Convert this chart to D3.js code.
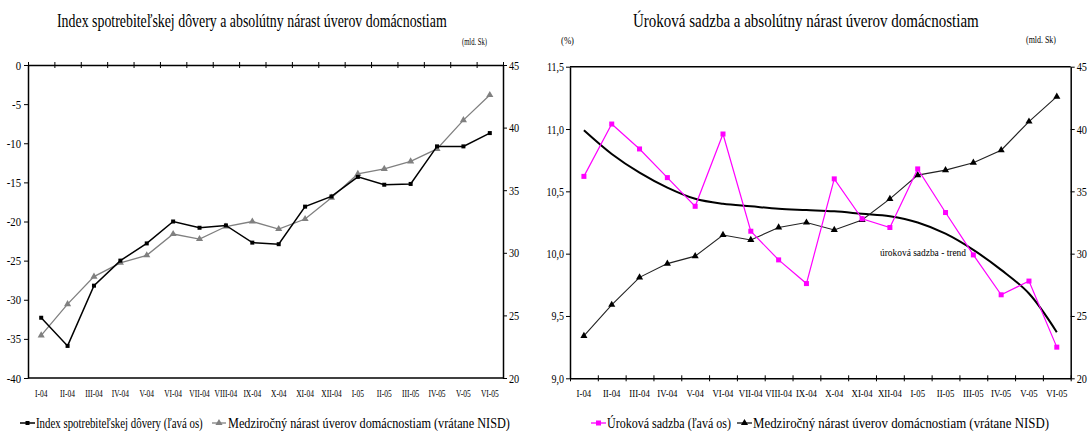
<!DOCTYPE html>
<html>
<head>
<meta charset="utf-8">
<script src="https://cdn.jsdelivr.net/npm/d3@7"></script>
<style>
  html, body { margin: 0; padding: 0; background: #fff; }
  svg { display: block; }
  svg text { font-family: "Liberation Serif", "Times New Roman", Times, "DejaVu Serif", serif !important; }
</style>
</head>
<body>
<svg id="chart" width="1092" height="431"></svg>
<script>
// Monthly categories, Jan 2004 – Jun 2005
const months = ["I-04","II-04","III-04","IV-04","V-04","VI-04","VII-04","VIII-04","IX-04",
                "X-04","XI-04","XII-04","I-05","II-05","III-05","IV-05","V-05","VI-05"];

// Consumer confidence index (left axis, left chart)
const confidence = [-32.3,-35.9,-28.2,-25.0,-22.8,-20.0,-20.8,-20.5,-22.7,
                    -22.9,-18.1,-16.8,-14.3,-15.3,-15.2,-10.4,-10.4,-8.7];

// Year-on-year increase of household loans incl. NISD, bn SKK (right axes)
const loanGrowth = [23.4,25.9,28.1,29.2,29.8,31.5,31.1,32.1,32.5,
                    31.9,32.7,34.4,36.3,36.7,37.3,38.3,40.6,42.6];

// Household lending rate, % (left axis, right chart)
const rate = [10.62,11.04,10.84,10.61,10.38,10.96,10.18,9.95,9.76,
              10.60,10.28,10.21,10.68,10.33,9.99,9.67,9.78,9.25];

// Lending rate trend line
const rateTrend = [10.99,10.80,10.65,10.53,10.44,10.40,10.38,10.36,10.35,
                   10.34,10.32,10.30,10.25,10.16,10.03,9.87,9.68,9.37];

// Tick values
const confTicks = [0,-5,-10,-15,-20,-25,-30,-35,-40];
const loanTicks = [20,25,30,35,40,45];
const rateTicks = [9.0,9.5,10.0,10.5,11.0,11.5];

const svg = d3.select("#chart");

// Squeeze text horizontally (condensed serif look) with a scale transform
function condense(sel, f) {
  sel.each(function () {
    const t = d3.select(this);
    const x = +t.attr("x") || 0;
    t.attr("x", x / f).attr("transform", `scale(${f},1)`);
  });
}
// Place a single line of text so that it spans exactly `width` pixels
function fitText(g, str, x, y, width, size) {
  const t = g.append("text").attr("x", 0).attr("y", 0).attr("font-size", size)
    .attr("fill", "#000").text(str);
  const w = t.node().getComputedTextLength();
  t.attr("transform", `translate(${x},${y}) scale(${width / w},1)`);
  return t;
}
function styleAxis(g, lw) {
  g.attr("font-family", null);
  g.selectAll("path.domain").attr("stroke", "#000").attr("stroke-width", lw || 1.5);
  g.selectAll(".tick line").attr("stroke", "#000").attr("stroke-width", 1);
  g.selectAll("text").attr("fill", "#000");
}
function squareMarks(g, data, x, y, size, color) {
  g.selectAll(null).data(data).join("rect")
    .attr("x", (d, i) => x(months[i]) + x.bandwidth() / 2 - size / 2)
    .attr("y", d => y(d) - size / 2)
    .attr("width", size).attr("height", size).attr("fill", color);
}
function triangleMarks(g, data, x, y, size, color) {
  const sym = d3.symbol().type(d3.symbolTriangle).size(size);
  g.selectAll(null).data(data).join("path")
    .attr("d", sym)
    .attr("transform", (d, i) => `translate(${x(months[i]) + x.bandwidth() / 2},${y(d)})`)
    .attr("fill", color);
}

/* ---------------- Left chart ---------------- */
{
  const L = 28, R = 503, T = 65, B = 378;
  const g = svg.append("g");
  const x = d3.scaleBand().domain(months).range([L, R]);
  const edges = d3.scaleLinear().domain([0, months.length]).range([L, R]);
  const yL = d3.scaleLinear().domain([-40, 0]).range([B, T]);
  const yR = d3.scaleLinear().domain([20, 45]).range([B, T]);

  fitText(g, "Index spotrebiteľskej dôvery a absolútny nárast úverov domácnostiam", 57, 27, 390, 19);
  fitText(g, "(mld. Sk)", 462, 45, 25, 9.5);

  // bottom frame line
  g.append("line").attr("x1", L).attr("x2", R).attr("y1", B).attr("y2", B)
    .attr("stroke", "#000").attr("stroke-width", 1.5);

  // category axis along the zero line (top)
  const top = g.append("g").attr("transform", `translate(0,${yL(0)})`)
    .call(d3.axisTop(edges).tickValues(d3.range(months.length + 1)).tickSize(3).tickFormat("").tickSizeOuter(0));
  top.selectAll(".tick line").attr("y2", -3).attr("y1", 3);
  styleAxis(top);

  // category labels below the plot
  const xl = g.append("g").attr("transform", `translate(0,${B})`)
    .call(d3.axisBottom(x).tickSize(0).tickPadding(11));
  xl.attr("font-family", null);
  xl.select("path.domain").remove();
  xl.selectAll("text").attr("font-size", 11).attr("fill", "#000");
  condense(xl.selectAll("text"), 0.68);

  const ax1 = g.append("g").attr("transform", `translate(${L},0)`)
    .call(d3.axisLeft(yL).tickValues(confTicks).tickFormat(d => String(d)).tickSize(4).tickPadding(3).tickSizeOuter(0));
  styleAxis(ax1);
  ax1.selectAll("text").attr("font-size", 12.5);
  condense(ax1.selectAll("text"), 0.86);

  const ax2 = g.append("g").attr("transform", `translate(${R},0)`)
    .call(d3.axisRight(yR).tickValues(loanTicks).tickFormat(d => String(d)).tickSize(4).tickPadding(2).tickSizeOuter(0));
  styleAxis(ax2);
  ax2.selectAll("text").attr("font-size", 12.5);
  condense(ax2.selectAll("text"), 0.82);

  const cx = (d, i) => x(months[i]) + x.bandwidth() / 2;
  // loan growth (grey, right axis)
  g.append("path").datum(loanGrowth)
    .attr("d", d3.line().x(cx).y(d => yR(d)))
    .attr("fill", "none").attr("stroke", "#808080").attr("stroke-width", 1.3);
  triangleMarks(g, loanGrowth, x, yR, 22, "#808080");
  // confidence index (black, left axis)
  g.append("path").datum(confidence)
    .attr("d", d3.line().x(cx).y(d => yL(d)))
    .attr("fill", "none").attr("stroke", "#000").attr("stroke-width", 1.5);
  squareMarks(g, confidence, x, yL, 4, "#000");

  // legend
  const ly = 423;
  g.append("line").attr("x1", 20).attr("x2", 35).attr("y1", ly).attr("y2", ly).attr("stroke", "#000").attr("stroke-width", 1.5);
  g.append("rect").attr("x", 25.5).attr("y", ly - 2).attr("width", 4).attr("height", 4).attr("fill", "#000");
  fitText(g, "Index spotrebiteľskej dôvery (ľavá os)", 36, 428, 167, 15);
  g.append("line").attr("x1", 212).attr("x2", 226).attr("y1", ly).attr("y2", ly).attr("stroke", "#808080").attr("stroke-width", 1.3);
  g.append("path").attr("d", d3.symbol().type(d3.symbolTriangle).size(22)).attr("transform", `translate(219,${ly})`).attr("fill", "#808080");
  fitText(g, "Medziročný nárast úverov domácnostiam (vrátane NISD)", 228, 428, 282, 15);
}

/* ---------------- Right chart ---------------- */
{
  const L = 570, R = 1070.7, T = 66.7, B = 378.3;
  const g = svg.append("g");
  const x = d3.scaleBand().domain(months).range([L, R]);
  const edges = d3.scaleLinear().domain([0, months.length]).range([L, R]);
  const yL = d3.scaleLinear().domain([9, 11.5]).range([B, T]);
  const yR = d3.scaleLinear().domain([20, 45]).range([B, T]);

  fitText(g, "Úroková sadzba a absolútny nárast úverov domácnostiam", 633, 27, 346, 19);
  fitText(g, "(mld. Sk)", 1026, 43, 30, 9.5);
  fitText(g, "(%)", 561, 44, 13, 9.5);

  // top frame line
  g.append("line").attr("x1", L).attr("x2", R).attr("y1", T).attr("y2", T)
    .attr("stroke", "#000").attr("stroke-width", 1.5);

  const bot = g.append("g").attr("transform", `translate(0,${B})`)
    .call(d3.axisBottom(edges).tickValues(d3.range(months.length + 1)).tickSize(3).tickFormat("").tickSizeOuter(0));
  bot.selectAll(".tick line").attr("y1", -3).attr("y2", 3);
  styleAxis(bot);

  const xl = g.append("g").attr("transform", `translate(0,${B})`)
    .call(d3.axisBottom(x).tickSize(0).tickPadding(11));
  xl.attr("font-family", null);
  xl.select("path.domain").remove();
  xl.selectAll("text").attr("font-size", 11).attr("fill", "#000");
  condense(xl.selectAll("text"), 0.8);

  const fmtComma = d => d3.format(".1f")(d).replace(".", ",");
  const ax1 = g.append("g").attr("transform", `translate(${L},0)`)
    .call(d3.axisLeft(yL).tickValues(rateTicks).tickFormat(fmtComma).tickSize(4).tickPadding(2).tickSizeOuter(0));
  styleAxis(ax1);
  ax1.selectAll("text").attr("font-size", 12.5);
  condense(ax1.selectAll("text"), 0.8);

  const ax2 = g.append("g").attr("transform", `translate(${R},0)`)
    .call(d3.axisRight(yR).tickValues(loanTicks).tickFormat(d => String(d)).tickSize(4).tickPadding(2).tickSizeOuter(0));
  styleAxis(ax2);
  ax2.selectAll("text").attr("font-size", 12.5);
  condense(ax2.selectAll("text"), 0.82);

  const cx = (d, i) => x(months[i]) + x.bandwidth() / 2;

  // rate trend
  g.append("path").datum(rateTrend)
    .attr("d", d3.line().x(cx).y(d => yL(d)).curve(d3.curveCatmullRom))
    .attr("fill", "none").attr("stroke", "#000").attr("stroke-width", 2);
  fitText(g, "úroková sadzba - trend", 880, 256, 86, 10.5);

  // loan growth (black triangles, right axis)
  g.append("path").datum(loanGrowth)
    .attr("d", d3.line().x(cx).y(d => yR(d)))
    .attr("fill", "none").attr("stroke", "#222").attr("stroke-width", 1.1);
  triangleMarks(g, loanGrowth, x, yR, 22, "#000");

  // lending rate (magenta squares, left axis)
  g.append("path").datum(rate)
    .attr("d", d3.line().x(cx).y(d => yL(d)))
    .attr("fill", "none").attr("stroke", "#ff00ff").attr("stroke-width", 1.2);
  squareMarks(g, rate, x, yL, 5, "#ff00ff");

  // legend
  const ly = 423;
  g.append("line").attr("x1", 591).attr("x2", 606).attr("y1", ly).attr("y2", ly).attr("stroke", "#ff00ff").attr("stroke-width", 1.3);
  g.append("rect").attr("x", 596).attr("y", ly - 2.5).attr("width", 5).attr("height", 5).attr("fill", "#ff00ff");
  fitText(g, "Úroková sadzba (ľavá os)", 607, 428, 124, 15);
  g.append("line").attr("x1", 737).attr("x2", 752).attr("y1", ly).attr("y2", ly).attr("stroke", "#000").attr("stroke-width", 1.2);
  g.append("path").attr("d", d3.symbol().type(d3.symbolTriangle).size(22)).attr("transform", `translate(744.5,${ly})`).attr("fill", "#000");
  fitText(g, "Medziročný nárast úverov domácnostiam (vrátane NISD)", 753, 428, 296, 15);
}
</script>
</body>
</html>
